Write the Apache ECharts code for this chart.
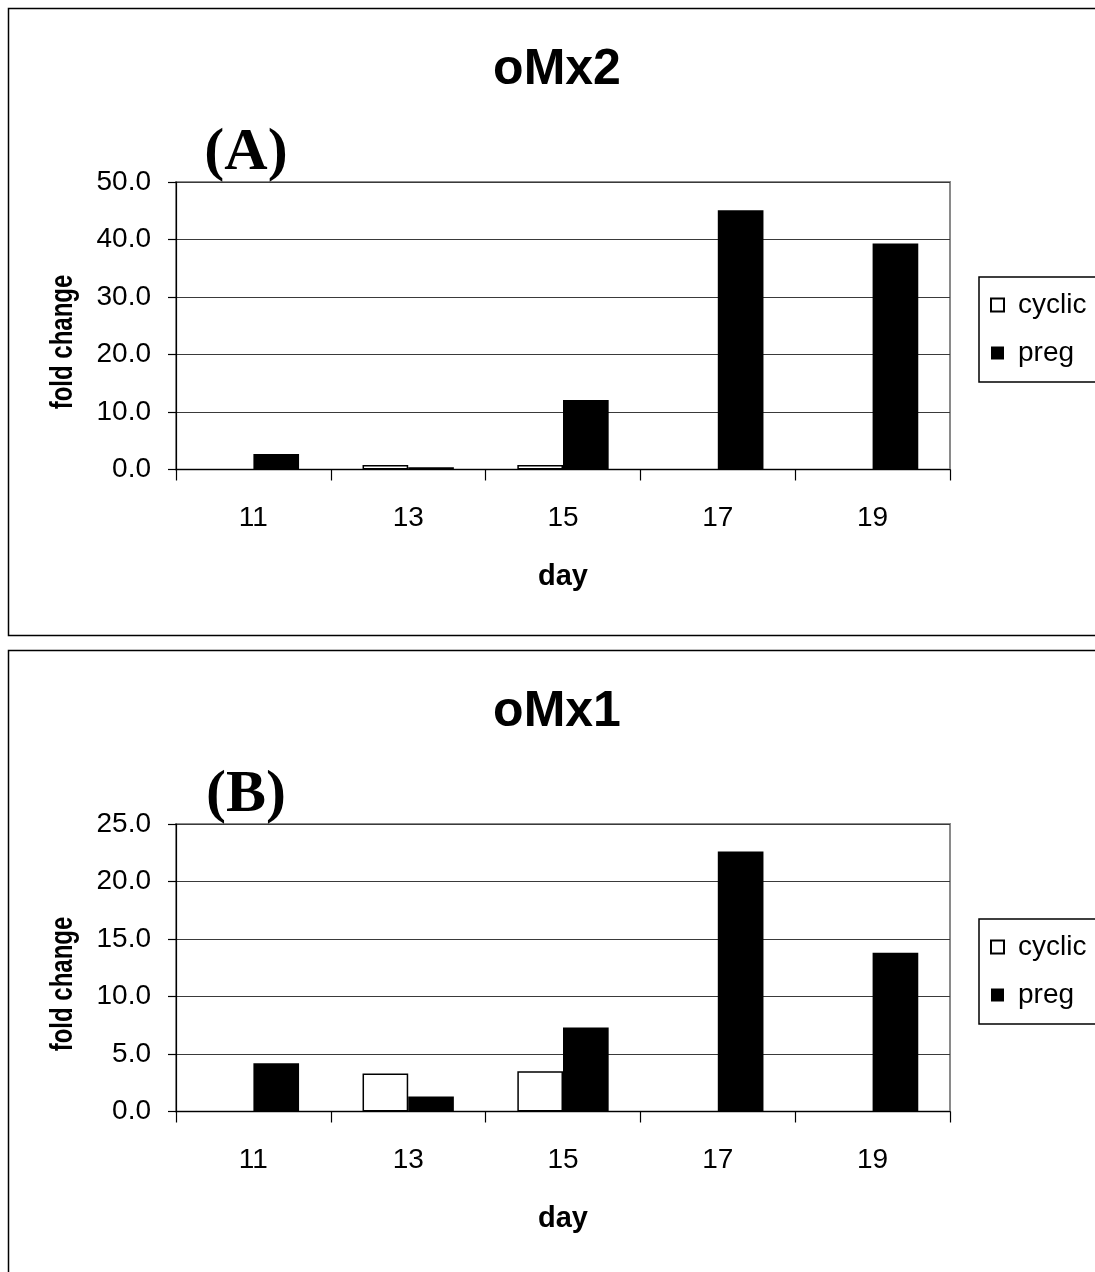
<!DOCTYPE html>
<html>
<head>
<meta charset="utf-8">
<script src="https://cdn.jsdelivr.net/npm/echarts@6/dist/echarts.min.js"></script>
<style>
  html, body { margin: 0; padding: 0; background: #fff; }
  #chart { width: 1095px; height: 1272px; }
</style>
</head>
<body>
<div id="chart"></div>
<script>
// Sampling days shared by both panels
const days = ['11', '13', '15', '17', '19'];
const seriesNames = ['cyclic', 'preg'];

// Panel A: oMx2 fold change
const oMx2Cyclic = [null, 0.8, 0.8, null, null];
const oMx2Preg = [2.7, 0.4, 12.1, 45.1, 39.3];
const oMx2Axis = { max: 50, step: 10 };

// Panel B: oMx1 fold change
const oMx1Cyclic = [null, 3.3, 3.5, null, null];
const oMx1Preg = [4.2, 1.3, 7.3, 22.6, 13.8];
const oMx1Axis = { max: 25, step: 5 };

const SANS = '"Liberation Sans", Arial, sans-serif';
const SERIF = '"Liberation Serif", "Times New Roman", serif';

const PANEL_SHIFT = 642;           // vertical offset between the two panels
const gridTops = [182, 182 + PANEL_SHIFT];
const PLOT_H = 287.5;

function grid(i) {
  return {
    left: 176, right: 145, top: gridTops[i], height: PLOT_H,
    show: true, borderColor: '#8a8a8a', borderWidth: 2, backgroundColor: 'transparent'
  };
}

function xAxis(i) {
  return {
    type: 'category', gridIndex: i, data: days,
    boundaryGap: true,
    axisLine: { show: true, lineStyle: { color: '#000', width: 1.2 } },
    axisTick: { show: true, length: 11, alignWithLabel: false, lineStyle: { color: '#000', width: 1.2 } },
    axisLabel: { fontFamily: SANS, fontSize: 28, color: '#000', margin: 35 },
    name: 'day', nameLocation: 'middle', nameGap: 93,
    nameTextStyle: { fontFamily: SANS, fontSize: 29, fontWeight: 'bold', color: '#000' }
  };
}

function yAxis(i, ax) {
  return {
    type: 'value', gridIndex: i, min: 0, max: ax.max, interval: ax.step,
    axisLine: { show: true, lineStyle: { color: '#000', width: 1.2 } },
    axisTick: { show: true, length: 8, inside: false, lineStyle: { color: '#000', width: 1.2 } },
    axisLabel: { fontFamily: SANS, fontSize: 28, color: '#000', margin: 25,
                 formatter: v => v.toFixed(1) },
    splitLine: { show: true, lineStyle: { color: '#3a3a3a', width: 1.2 } }
  };
}

function barPair(i, cyclic, preg) {
  return [
    {
      name: seriesNames[0], type: 'bar', xAxisIndex: i, yAxisIndex: i, data: cyclic,
      barGap: '0%', barCategoryGap: '41%',
      itemStyle: { color: '#fff', borderColor: '#000', borderWidth: 1.5 },
      emphasis: { disabled: true }, animation: false
    },
    {
      name: seriesNames[1], type: 'bar', xAxisIndex: i, yAxisIndex: i, data: preg,
      barGap: '0%', barCategoryGap: '41%',
      itemStyle: { color: '#000', borderColor: '#000', borderWidth: 0 },
      emphasis: { disabled: true }, animation: false
    }
  ];
}

function legend(i) {
  return {
    data: seriesNames, orient: 'vertical',
    left: 979, top: 277 + i * PANEL_SHIFT,
    padding: [14, 20, 15, 11], itemGap: 20,
    itemWidth: 13, itemHeight: 13, icon: 'rect',
    borderColor: '#000', borderWidth: 1.5, backgroundColor: '#fff',
    selectedMode: false,
    textStyle: { fontFamily: SANS, fontSize: 28, color: '#000', padding: [0, 0, 0, 9] }
  };
}

function txt(x, y, text, font, size, weight, rotation, scaleX) {
  return {
    type: 'text', x: x, y: y, rotation: rotation || 0, scaleX: scaleX || 1, z: 10,
    style: {
      text: text, fontFamily: font, fontSize: size, fontWeight: weight, fill: '#000',
      align: 'center', verticalAlign: 'middle',
      textAlign: 'center', textVerticalAlign: 'middle'
    }
  };
}

const titles = ['oMx2', 'oMx1'];
const panelTags = ['(A)', '(B)'];
const graphics = [];
for (let i = 0; i < 2; i++) {
  const dy = i * PANEL_SHIFT;
  graphics.push({
    type: 'rect', z: -1,
    shape: { x: 8.5, y: 8.5 + dy, width: 1120, height: i === 0 ? 627 : 700 },
    style: { fill: 'none', stroke: '#000', lineWidth: 1.5 }
  });
  graphics.push(txt(557, 70 + dy, titles[i], SANS, 50, 'bold'));
  graphics.push(txt(246, 153 + dy, panelTags[i], SERIF, 60, 'bold'));
  // condensed, rotated axis caption
  graphics.push(txt(63, 342 + dy, 'fold change', SANS, 32, 'bold', Math.PI / 2, 0.75));
}

const chart = echarts.init(document.getElementById('chart'), null, { renderer: 'canvas' });
chart.setOption({
  animation: false,
  backgroundColor: '#fff',
  grid: [grid(0), grid(1)],
  xAxis: [xAxis(0), xAxis(1)],
  yAxis: [yAxis(0, oMx2Axis), yAxis(1, oMx1Axis)],
  legend: [legend(0), legend(1)],
  series: [...barPair(0, oMx2Cyclic, oMx2Preg), ...barPair(1, oMx1Cyclic, oMx1Preg)],
  graphic: graphics
});
</script>
</body>
</html>
